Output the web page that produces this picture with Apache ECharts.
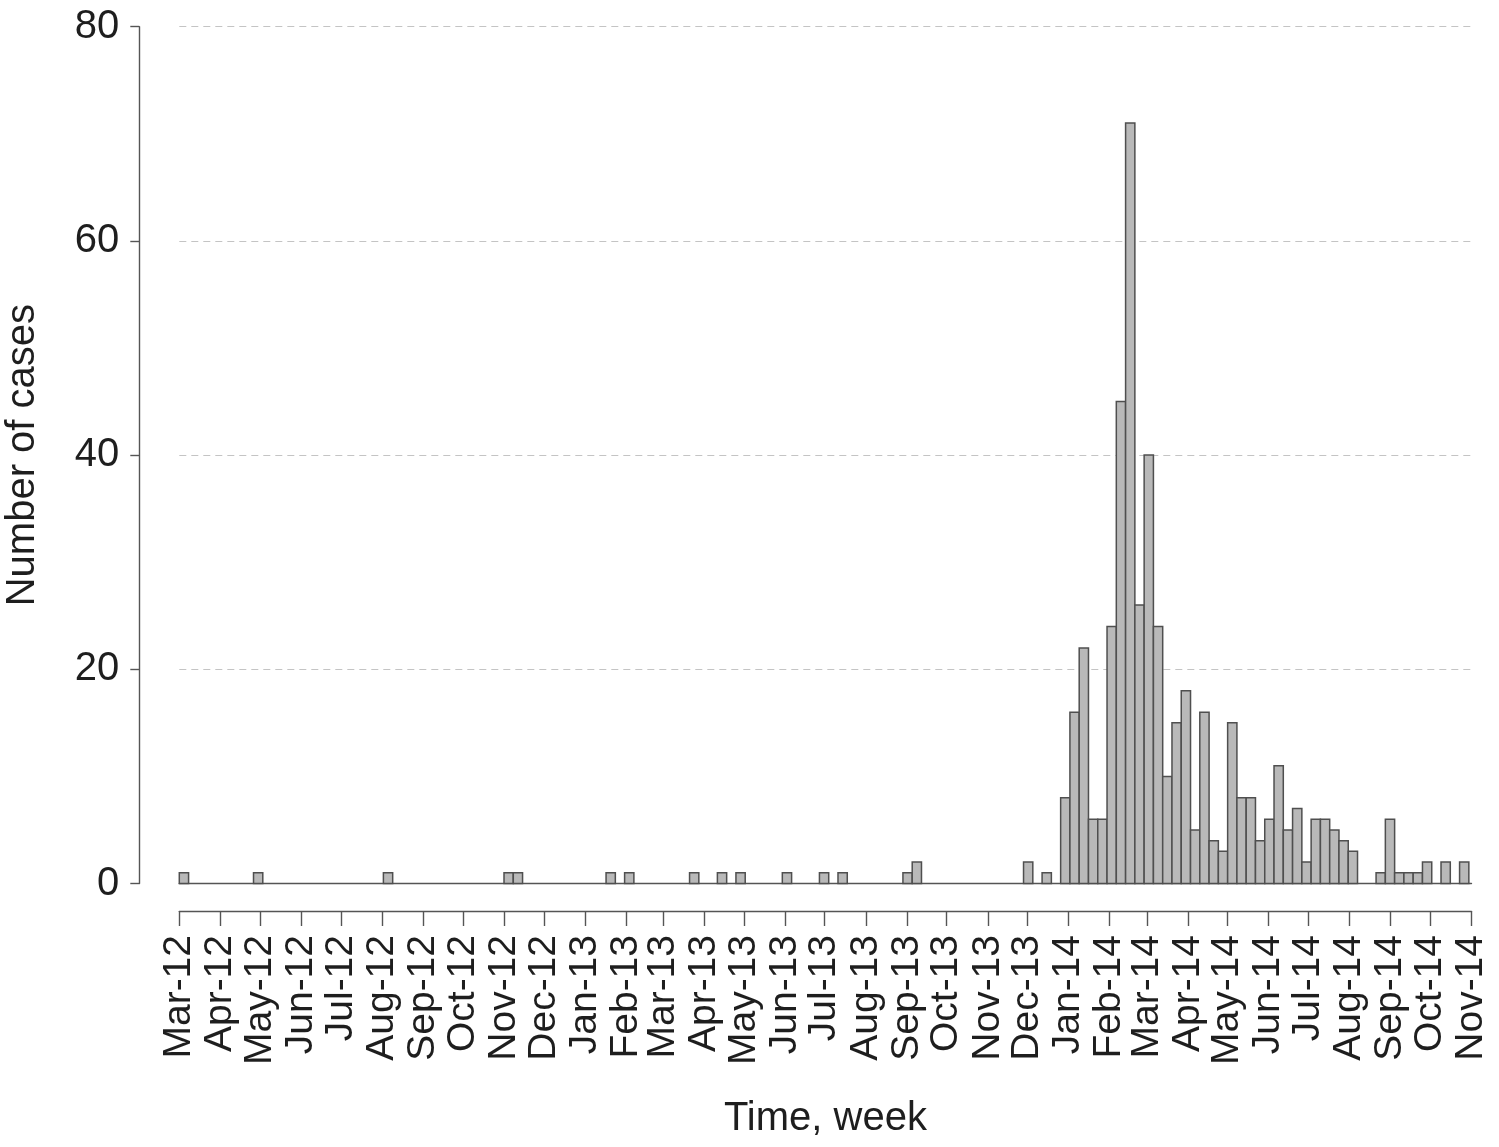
<!DOCTYPE html>
<html>
<head>
<meta charset="utf-8">
<script src="https://cdn.jsdelivr.net/npm/echarts@6/dist/echarts.min.js"></script>
<style>
html,body{margin:0;padding:0;background:#fff;}
#chart{width:1499px;height:1147px;}
</style>
</head>
<body>
<div id="chart"></div>
<script>
// ---- DATA ----
// weekly case counts, week 0 starts 1 March 2012
var startDate = [2012, 3, 1];
var weeklyCases = [
  1,0,0,0,0,0,0,0,1,0,   // weeks 0-9
  0,0,0,0,0,0,0,0,0,0,   // 10-19
  0,0,1,0,0,0,0,0,0,0,   // 20-29
  0,0,0,0,0,1,1,0,0,0,   // 30-39
  0,0,0,0,0,0,1,0,1,0,   // 40-49
  0,0,0,0,0,1,0,0,1,0,   // 50-59
  1,0,0,0,0,1,0,0,0,1,   // 60-69
  0,1,0,0,0,0,0,0,1,2,   // 70-79
  0,0,0,0,0,0,0,0,0,0,   // 80-89
  0,2,0,1,0,8,16,22,6,6, // 90-99
  24,45,71,26,40,24,10,15,18,5, // 100-109
  16,4,3,15,8,8,4,6,11,5,       // 110-119
  7,2,6,6,5,4,3,0,0,1,          // 120-129
  6,1,1,1,2,0,2,0,2             // 130-138
];
var monthLabels = ['Mar-12','Apr-12','May-12','Jun-12','Jul-12','Aug-12','Sep-12','Oct-12','Nov-12','Dec-12',
  'Jan-13','Feb-13','Mar-13','Apr-13','May-13','Jun-13','Jul-13','Aug-13','Sep-13','Oct-13','Nov-13','Dec-13',
  'Jan-14','Feb-14','Mar-14','Apr-14','May-14','Jun-14','Jul-14','Aug-14','Sep-14','Oct-14','Nov-14'];
var yTicks = [0, 20, 40, 60, 80];
var xTitle = 'Time, week';
var yTitle = 'Number of cases';
var DAYS_PER_WEEK = 7;

// ---- derived ----
var DAY = 86400000;
var t0 = Date.UTC(startDate[0], startDate[1] - 1, startDate[2]);
var monthOffsets = monthLabels.map(function (lab, i) {
  var m = startDate[1] - 1 + i;
  return Math.round((Date.UTC(startDate[0] + Math.floor(m / 12), m % 12, 1) - t0) / DAY);
});
var xMax = monthOffsets[monthOffsets.length - 1];
// [week start (days since start), week end, cases]
var barData = weeklyCases.map(function (v, k) {
  return [k * DAYS_PER_WEEK, (k + 1) * DAYS_PER_WEEK, v];
});

var FONT = '"Liberation Sans", Arial, Helvetica, sans-serif';
var AXIS_COLOR = '#555555';
var TEXT_COLOR = '#1e1e1e';

var chart = echarts.init(document.getElementById('chart'), null, {renderer: 'canvas'});
chart.setOption({
  backgroundColor: '#ffffff',
  animation: false,
  grid: {left: 179.3, right: 27.5, top: 26.7, bottom: 263.5, containLabel: false, outerBoundsMode: 'none'},
  xAxis: [{
    type: 'value', min: 0, max: xMax, position: 'bottom',
    axisLine: {show: true, onZero: false, lineStyle: {color: AXIS_COLOR, width: 1.4}},
    axisTick: {show: false}, axisLabel: {show: false}, splitLine: {show: false}
  }, {
    type: 'value', min: 0, max: xMax, position: 'bottom', offset: 27.5,
    axisLine: {show: true, onZero: false, lineStyle: {color: AXIS_COLOR, width: 1.4}},
    axisTick: {show: true, length: 15, customValues: monthOffsets, lineStyle: {color: AXIS_COLOR, width: 1.4}},
    axisLabel: {
      show: true, customValues: monthOffsets, rotate: 90, margin: 24,
      fontSize: 39, fontFamily: FONT, color: TEXT_COLOR,
      formatter: function (val) {
        var i = monthOffsets.indexOf(Math.round(val));
        return i >= 0 ? monthLabels[i] : '';
      }
    },
    splitLine: {show: false},
    name: xTitle, nameLocation: 'middle', nameGap: 188,
    nameTextStyle: {fontSize: 40, fontFamily: FONT, color: TEXT_COLOR}
  }],
  yAxis: {
    type: 'value', min: yTicks[0], max: yTicks[yTicks.length - 1], interval: yTicks[1] - yTicks[0],
    position: 'left', offset: 40,
    axisLine: {show: true, onZero: false, lineStyle: {color: AXIS_COLOR, width: 1.4}},
    axisTick: {show: true, length: 9, lineStyle: {color: AXIS_COLOR, width: 1.4}},
    axisLabel: {margin: 20, fontSize: 40, fontFamily: FONT, color: TEXT_COLOR},
    splitLine: {show: true, lineStyle: {color: '#c4c4c4', width: 1.2, type: [7, 5]}},
    name: yTitle, nameLocation: 'middle', nameGap: 96,
    nameTextStyle: {fontSize: 40, fontFamily: FONT, color: TEXT_COLOR}
  },
  series: [{
    type: 'custom', xAxisIndex: 0, yAxisIndex: 0,
    data: barData,
    encode: {x: [0, 1], y: 2},
    renderItem: function (params, api) {
      var v = api.value(2);
      if (!v) return null;
      var pTop = api.coord([api.value(0), v]);
      var pBot = api.coord([api.value(1), 0]);
      return {
        type: 'rect',
        shape: {x: pTop[0], y: pTop[1], width: pBot[0] - pTop[0], height: pBot[1] - pTop[1]},
        style: {fill: '#b9b9b9', stroke: '#4f4f4f', lineWidth: 1.5}
      };
    }
  }]
});
</script>
</body>
</html>
